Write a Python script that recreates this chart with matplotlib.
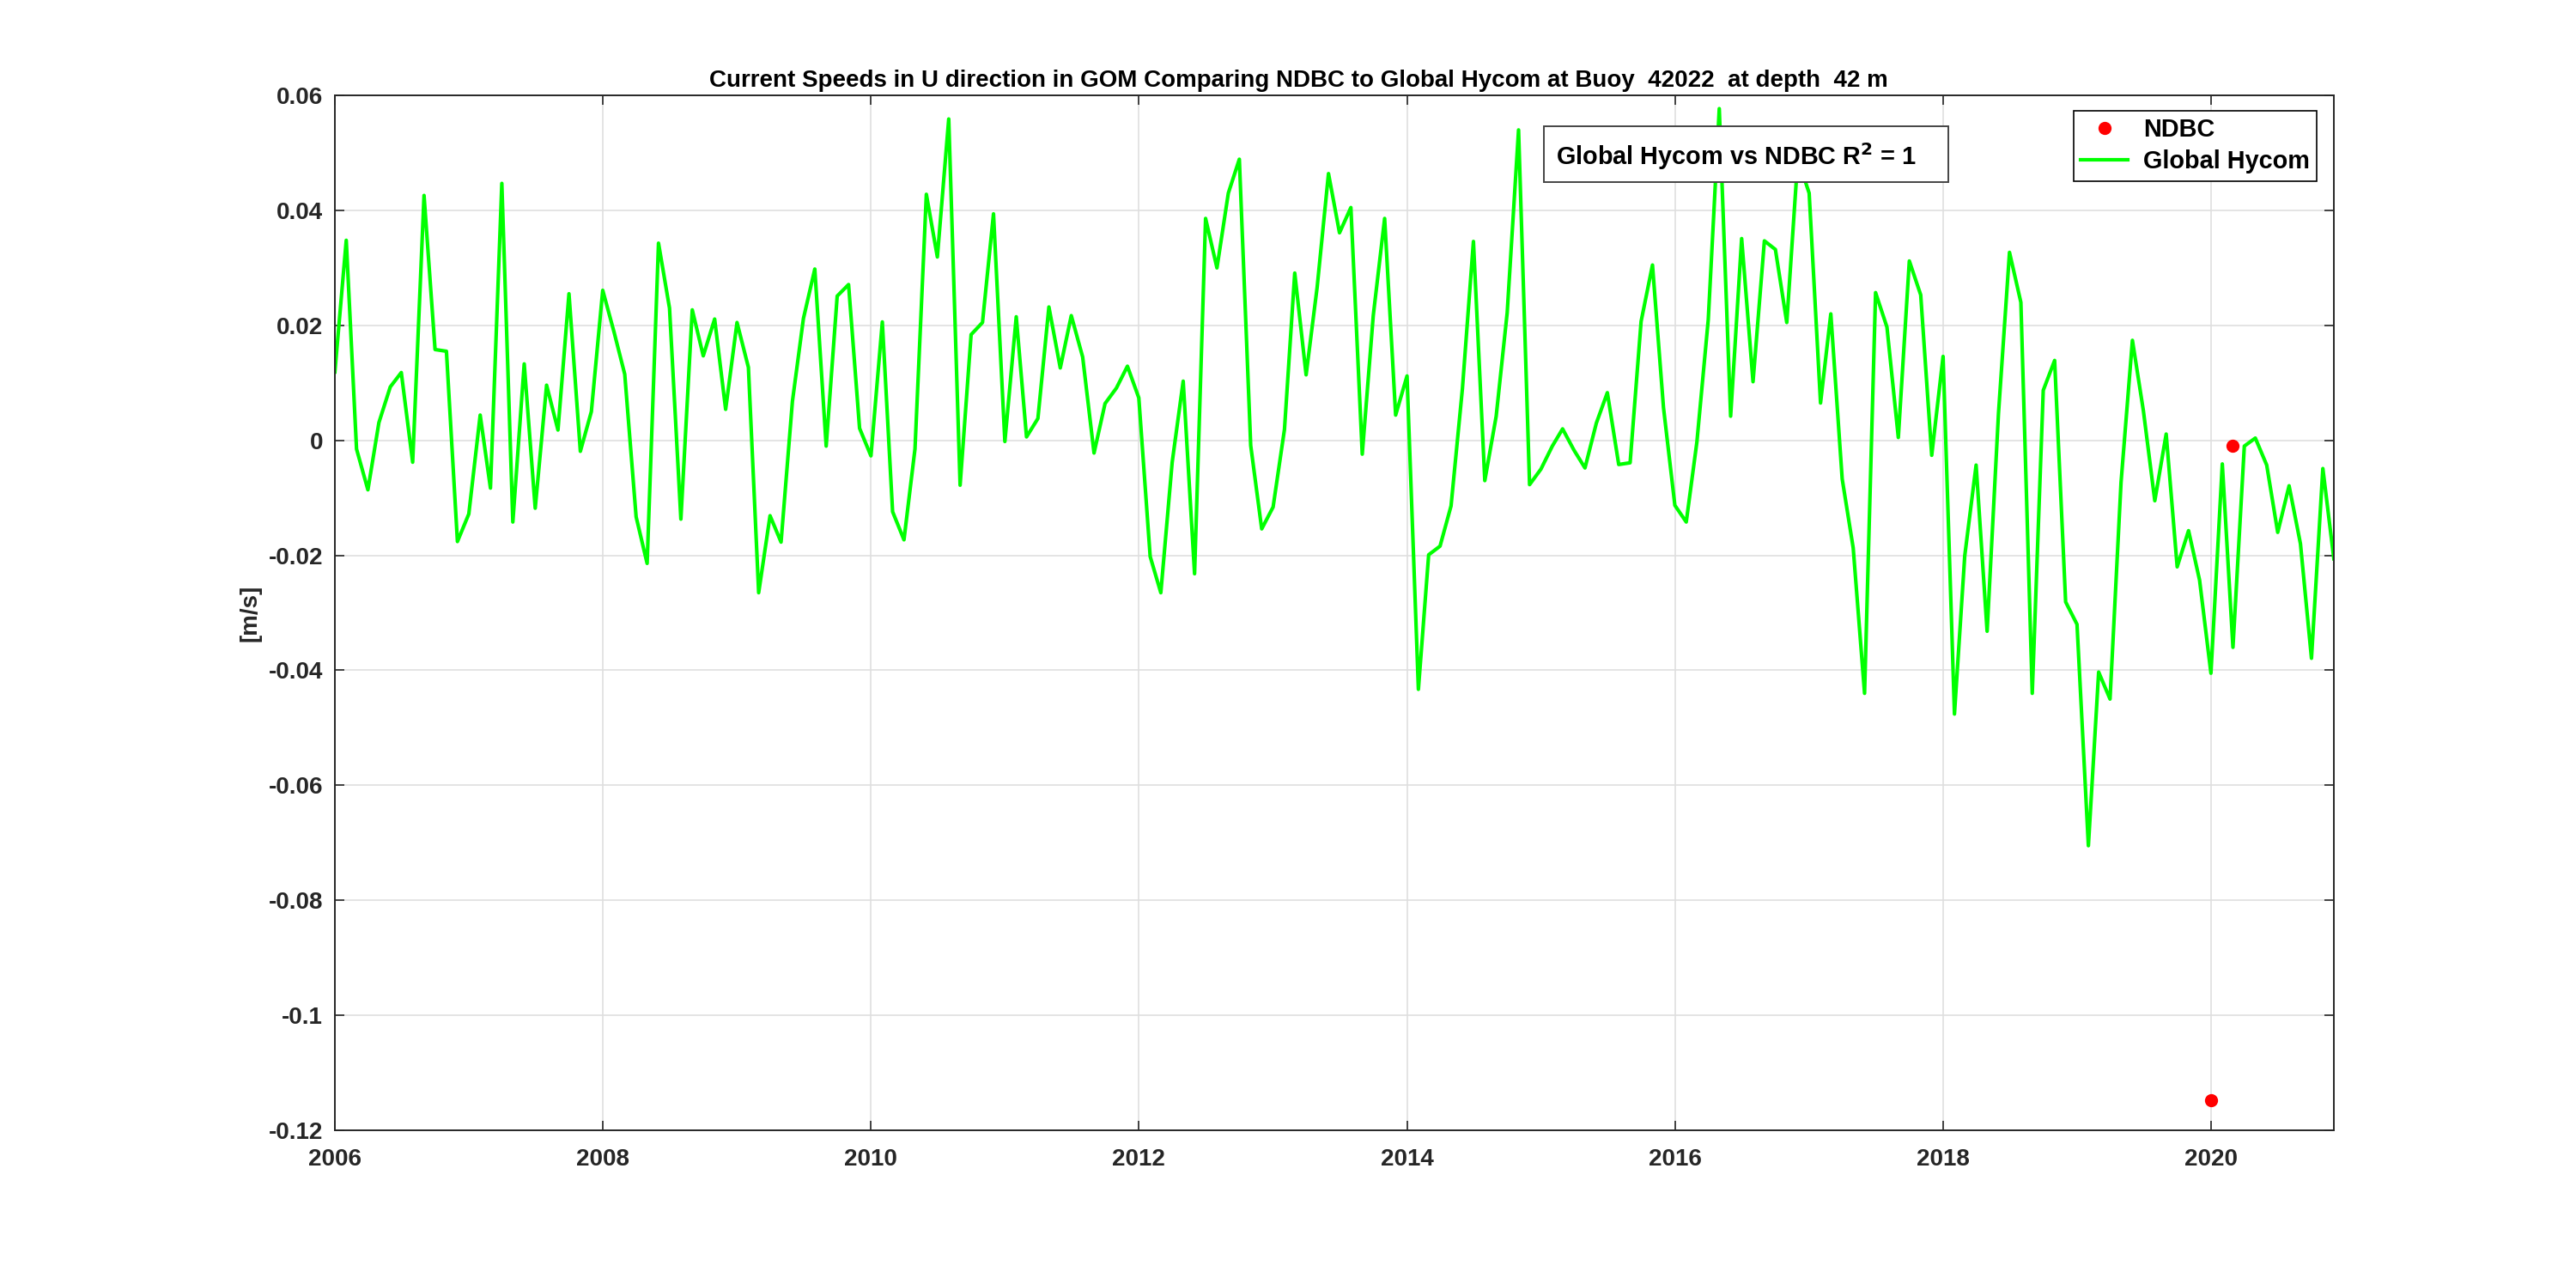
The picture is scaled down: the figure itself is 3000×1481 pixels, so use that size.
#!/usr/bin/env python3
import numpy as np
import pandas as pd
import matplotlib
matplotlib.use("Agg")
import matplotlib.pyplot as plt
import matplotlib.dates as mdates
from matplotlib.patches import Rectangle
from matplotlib.ticker import FuncFormatter

# monthly Global Hycom U current at buoy 42022, Jan 2006 .. Dec 2020
hycom_u = [
    0.0119, 0.0348, -0.0015, -0.0086, 0.0031, 0.0093, 0.0118, -0.0038, 0.0426, 0.0158, 0.0155, -0.0176,
    -0.0128, 0.0044, -0.0083, 0.0447, -0.0142, 0.0133, -0.0118, 0.0096, 0.0018, 0.0255, -0.0019, 0.0050,
    0.0261, 0.0188, 0.0115, -0.0133, -0.0214, 0.0343, 0.0230, -0.0137, 0.0227, 0.0147, 0.0211, 0.0054,
    0.0205, 0.0127, -0.0265, -0.0131, -0.0177, 0.0068, 0.0212, 0.0298, -0.0010, 0.0251, 0.0271, 0.0021,
    -0.0027, 0.0206, -0.0124, -0.0173, -0.0015, 0.0428, 0.0319, 0.0559, -0.0078, 0.0184, 0.0205, 0.0394,
    -0.0002, 0.0215, 0.0006, 0.0038, 0.0232, 0.0126, 0.0217, 0.0145, -0.0022, 0.0064, 0.0091, 0.0129,
    0.0074, -0.0202, -0.0265, -0.0038, 0.0103, -0.0232, 0.0386, 0.0300, 0.0430, 0.0489, -0.0009, -0.0154,
    -0.0116, 0.0019, 0.0291, 0.0114, 0.0266, 0.0464, 0.0361, 0.0405, -0.0024, 0.0217, 0.0386, 0.0044,
    0.0112, -0.0433, -0.0199, -0.0184, -0.0114, 0.0090, 0.0346, -0.0070, 0.0042, 0.0222, 0.0540, -0.0077,
    -0.0050, -0.0010, 0.0020, -0.0017, -0.0048, 0.0030, 0.0083, -0.0042, -0.0039, 0.0207, 0.0305, 0.0057,
    -0.0113, -0.0142, -0.0003, 0.0210, 0.0577, 0.0042, 0.0351, 0.0102, 0.0347, 0.0332, 0.0205, 0.0490,
    0.0430, 0.0065, 0.0220, -0.0067, -0.0187, -0.0440, 0.0257, 0.0197, 0.0005, 0.0312, 0.0253, -0.0026,
    0.0146, -0.0476, -0.0201, -0.0043, -0.0332, 0.0047, 0.0327, 0.0240, -0.0440, 0.0087, 0.0139, -0.0281,
    -0.0320, -0.0705, -0.0403, -0.0450, -0.0073, 0.0174, 0.0051, -0.0105, 0.0011, -0.0220, -0.0157, -0.0243,
    -0.0405, -0.0041, -0.0360, -0.0010, 0.0004, -0.0043, -0.0160, -0.0079, -0.0180, -0.0379, -0.0049, -0.0206,
]
hycom_dates = pd.date_range("2006-01-01", periods=len(hycom_u), freq="MS")

# the few NDBC observations
ndbc_dates = pd.to_datetime(["2020-01-01", "2020-03-01"])
ndbc_u = [-0.1147, -0.0009]

y_ticks = [-0.12, -0.1, -0.08, -0.06, -0.04, -0.02, 0, 0.02, 0.04, 0.06]
x_years = [2006, 2008, 2010, 2012, 2014, 2016, 2018, 2020]

plt.rcParams["font.family"] = ["Liberation Sans", "DejaVu Sans"]
plt.rcParams["font.weight"] = "bold"
plt.rcParams["axes.unicode_minus"] = False

fig = plt.figure(figsize=(15, 7.405), dpi=200)
ax = fig.add_axes([0.13, 0.1114, 0.776, 0.8136])

ax.plot(ndbc_dates, ndbc_u, "o", color=(1, 0, 0), markersize=4.5, label="NDBC", zorder=3)
ax.plot(hycom_dates, hycom_u, "-", color=(0, 1, 0), linewidth=1.5, label="Global Hycom")

ax.set_xlim(hycom_dates[0], hycom_dates[-1])
ax.set_ylim(-0.12, 0.06)
ax.set_yticks(y_ticks)
ax.yaxis.set_major_formatter(FuncFormatter(lambda v, p: "%g" % round(v, 4)))
ax.set_xticks(pd.to_datetime(["%d-01-01" % y for y in x_years]))
ax.xaxis.set_major_formatter(mdates.DateFormatter("%Y"))

# matlab look: grid, box, ticks inside on all sides
ax.grid(True, color="#dfdfdf", linewidth=0.6)
ax.set_axisbelow(True)
ax.tick_params(direction="in", top=True, right=True, labelsize=10, length=4, width=0.6, colors="#262626",
               pad=5)
ax.tick_params(axis="x", pad=7.5)
for s in ax.spines.values():
    s.set_linewidth(0.7)
    s.set_color("#262626")

ax.set_ylabel("[m/s]", fontsize=10, fontweight="bold", color="#262626", labelpad=3)
ax.set_title("Current Speeds in U direction in GOM Comparing NDBC to Global Hycom at Buoy  42022  at depth  42 m",
             fontsize=10, fontweight="bold", pad=3.5, x=0.482)

# R^2 annotation box
ax.add_patch(Rectangle((0.605, 0.916), 0.202, 0.054, transform=ax.transAxes, facecolor="white",
                       edgecolor="#444444", linewidth=0.7, zorder=4))
ax.text(0.611, 0.941, "Global Hycom vs NDBC R$^{\\mathbf{2}}$ = 1", transform=ax.transAxes,
        fontsize=10.4, fontweight="bold", va="center", ha="left", zorder=5)

leg = ax.legend(loc="upper right", bbox_to_anchor=(0.9915, 0.9855), borderaxespad=0, fancybox=False,
                framealpha=1, edgecolor="black", fontsize=10.4, handlelength=1.9, handletextpad=0.6,
                borderpad=0.3, labelspacing=0.3)
leg.get_frame().set_linewidth(0.6)

fig.savefig("out.png", dpi=200)
